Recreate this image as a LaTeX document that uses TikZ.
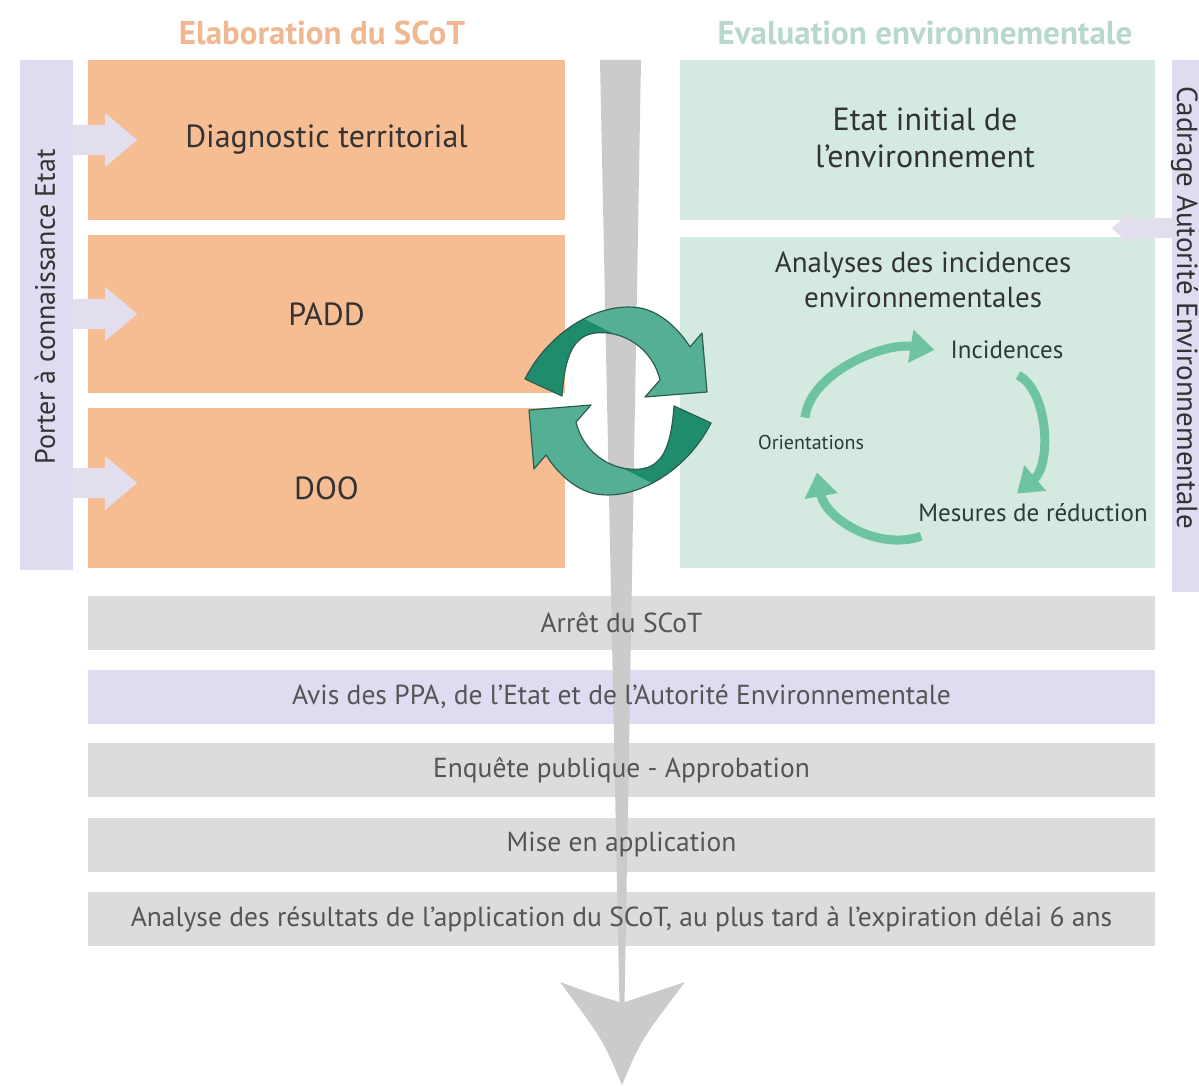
\documentclass[tikz,border=0pt]{standalone}
\usepackage{fontspec}
\setmainfont{PT Sans}
\usetikzlibrary{arrows.meta,calc}
\definecolor{orangec}{HTML}{F6BD93}
\definecolor{tealc}{HTML}{D4EAE0}
\definecolor{lavc}{HTML}{DDDCF0}
\definecolor{lavarr}{HTML}{E2DEEE}
\definecolor{grayc}{HTML}{DCDCDC}
\definecolor{barc}{HTML}{CBCBCB}
\definecolor{txtc}{HTML}{333333}
\definecolor{bartxt}{HTML}{555555}
\definecolor{otitle}{HTML}{F0B890}
\definecolor{ttitle}{HTML}{B8D8CC}
\definecolor{darkg}{HTML}{1F8C6D}
\definecolor{lightg}{HTML}{55AF94}
\definecolor{outg}{HTML}{2C5E50}
\definecolor{smallg}{HTML}{6EC3A0}
\definecolor{cyctxt}{HTML}{2F3A36}

\newcommand{\cyclearrow}[1]{%
\begin{scope}[rotate around={#1:(618,684)}]
\fill[lightg] (525,706) .. controls (548,752) and (598,784) .. (640,777) .. controls (662,773) and (680,754) .. (690,738) -- (702,752) -- (707,693) -- (645,688) -- (660,705) .. controls (652,738) and (622,755) .. (595,752) .. controls (575,749) and (565,733) .. (562,689) -- cycle;
\begin{scope}
\clip (525,706) .. controls (548,752) and (598,784) .. (640,777) .. controls (662,773) and (680,754) .. (690,738) -- (702,752) -- (707,693) -- (645,688) -- (660,705) .. controls (652,738) and (622,755) .. (595,752) .. controls (575,749) and (565,733) .. (562,689) -- cycle;
\fill[darkg] (460,600) -- (460,800) -- (540,788) -- (620,748) -- (620,600) -- cycle;
\end{scope}
\draw[outg, line width=1.2pt, line join=round] (525,706) .. controls (548,752) and (598,784) .. (640,777) .. controls (662,773) and (680,754) .. (690,738) -- (702,752) -- (707,693) -- (645,688) -- (660,705) .. controls (652,738) and (622,755) .. (595,752) .. controls (575,749) and (565,733) .. (562,689) -- cycle;
\end{scope}}

\begin{document}
\begin{tikzpicture}[x=1pt,y=1pt,
  box/.style={draw=none, inner sep=0pt, text=txtc, align=center},
  obox/.style={box, fill=orangec, minimum width=477pt, font=\fontsize{32}{38}\selectfont},
  tbox/.style={box, fill=tealc, minimum width=475pt, font=\fontsize{32}{37}\selectfont},
  stepbar/.style={box, minimum width=1067pt, minimum height=54pt},
  bartext/.style={inner sep=0pt, text=bartxt, font=\fontsize{27.5}{32}\selectfont},
  titletext/.style={inner sep=0pt, font=\fontsize{33}{38}\selectfont\bfseries},
  sidetext/.style={inner sep=0pt, text=txtc, font=\fontsize{28}{32}\selectfont},
  cyctext/.style={inner sep=2pt, text=cyctxt, font=\fontsize{25}{28}\selectfont},
  smallarr/.style={draw=smallg, line width=9pt, -{Triangle[length=24pt,width=32pt]}}
]
\useasboundingbox (0,0) rectangle (1199,1085);
\clip (0,0) rectangle (1199,1085);
\fill[white] (0,0) rectangle (1199,1085);

% titles
\node[titletext, text=otitle] (t-elab) at (322,1052) {Elaboration du SCoT};
\node[titletext, text=ttitle] (t-eval) at (925,1052) {Evaluation environnementale};

% side bars
\node[box, fill=lavc, minimum width=53pt, minimum height=510pt] (lbar) at (46.5,770) {};
\node[sidetext, rotate=90] (porter) at (45,778) {Porter à connaissance Etat};
\node[box, fill=lavc, minimum width=43pt, minimum height=532pt] (rbar) at (1193.5,759) {};
\node[sidetext, rotate=-90, anchor=base, font=\fontsize{29}{32}\selectfont] (cadrage) at (1177,777) {Cadrage Autorité Environnementale};

% orange boxes
\node[obox, minimum height=160pt] (diag) at (326.5,945) {Diagnostic territorial};
\node[obox, minimum height=158pt] (padd) at (326.5,771) {PADD};
\node[obox, minimum height=160pt] (doo) at (326.5,597) {DOO};

% teal boxes
\node[tbox, minimum height=160pt] (etat) at (917.5,945) {};
\node[box, font=\fontsize{32}{37}\selectfont] (etattext) at (925,947) {Etat initial de\\l’environnement};
\node[tbox, minimum height=331pt] (analy) at (917.5,682.5) {};
\node[box, font=\fontsize{29}{35}\selectfont] (analytitle) at (923,805) {Analyses des incidences\\environnementales};

% arrows from side bars
\foreach \b/\dy in {diag/0, padd/0, doo/5}{
  \fill[lavarr] ($(lbar.east |- \b.center)+(0,\dy+15)$) -- ++(32,0) -- ++(0,12) -- ++(32,-27) -- ++(-32,-27) -- ++(0,12) -- ++(-32,0) -- cycle;
}
\fill[lavarr] ($(rbar.west |- etat.south)+(0,2)$) -- ++(-40,0) -- ++(0,8) -- ++(-20,-18) -- ++(20,-18) -- ++(0,8) -- ++(40,0) -- cycle;

% step bars
\node[stepbar, fill=grayc] (s1) at (621.5,462) {};
\node[stepbar, fill=lavc] (s2) at (621.5,388) {};
\node[stepbar, fill=grayc] (s3) at (621.5,315) {};
\node[stepbar, fill=grayc] (s4) at (621.5,240) {};
\node[stepbar, fill=grayc] (s5) at (621.5,166) {};

% central time bar
\fill[barc] (600,1025) -- (641,1025) -- (624.5,80) -- (619.5,80) -- cycle;
\fill[barc] (622,0) .. controls (603,45) .. (560,103) .. controls (590,92) .. (622,82) .. controls (654,92) .. (685,103) .. controls (641,45) .. (622,0) -- cycle;

% step texts
\node[bartext] (s1t) at (s1) {Arrêt du SCoT};
\node[bartext] (s2t) at (s2) {Avis des PPA, de l’Etat et de l’Autorité Environnementale};
\node[bartext] (s3t) at (s3) {Enquête publique - Approbation};
\node[bartext] (s4t) at (s4) {Mise en application};
\node[bartext] (s5t) at (s5) {Analyse des résultats de l’application du SCoT, au plus tard à l’expiration délai 6 ans};

% big cycle arrows
\cyclearrow{0}
\cyclearrow{180}

% small cycle
\node[cyctext] (incid) at (1007,735) {Incidences};
\node[cyctext, font=\fontsize{20}{24}\selectfont] (orient) at (811,642) {Orientations};
\node[cyctext] (mesures) at (1033,572) {Mesures de réduction};
\draw[smallarr] ($(orient.north)+(-6,16)$) .. controls +(5,45) and +(-50,8) .. ($(incid.west)+(-14,0)$);
\draw[smallarr] ($(incid.south)+(11,-14)$) .. controls +(30,-15) and +(35,30) .. ($(mesures.north)+(-16,8)$);
\draw[smallarr] ($(mesures.south west)+(5,-12)$) .. controls +(-45,-15) and +(8,-45) .. ($(orient.south)+(6,-20)$);
\end{tikzpicture}
\end{document}
